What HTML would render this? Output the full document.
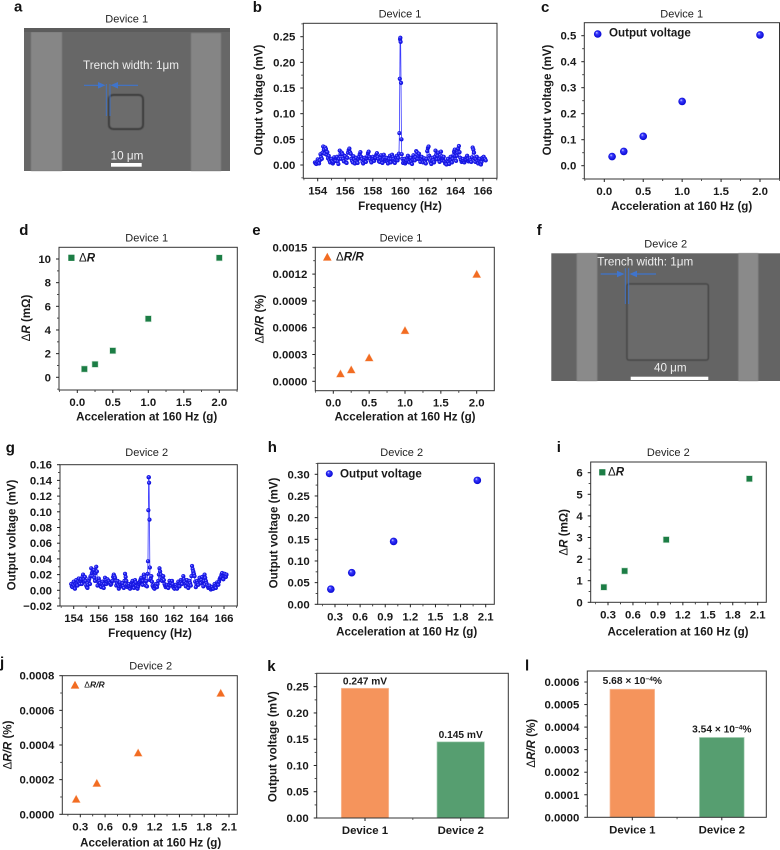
<!DOCTYPE html>
<html lang="en">
<head>
<meta charset="utf-8">
<title>Device 1 and Device 2 acceleration response</title>
<style>
html,body{margin:0;padding:0;background:#fff;width:780px;height:850px;overflow:hidden}
svg{display:block;filter:blur(.3px)}
text{font-family:"Liberation Sans",sans-serif;fill:#1a1a1a}
.title{font-size:11px;text-anchor:middle;fill:#222}
.letter{font-size:15px;font-weight:bold;fill:#111}
.axt{font-size:11.6px;font-weight:bold;text-anchor:middle;fill:#1a1a1a}
.axn{font-weight:normal}
.tick{font-size:11.4px;font-weight:bold;fill:#1a1a1a}
.leg{font-size:11.6px;font-weight:bold}
.img{font-size:11.7px;fill:#eee}
.val{font-size:10.2px;font-weight:bold;text-anchor:middle}
</style>
</head>
<body>
<svg id="fig" xmlns="http://www.w3.org/2000/svg" width="780" height="850" viewBox="0 0 780 850">
<defs>
<radialGradient id="bead" cx="50%" cy="50%" r="55%" fx="35%" fy="30%">
<stop offset="0" stop-color="#dfe4ff"/><stop offset=".3" stop-color="#3a3aff"/><stop offset="1" stop-color="#0000cc"/>
</radialGradient>
<filter id="soft"><feGaussianBlur stdDeviation="0.6"/></filter>
</defs>

<g>
<rect x="24" y="28" width="206" height="143" fill="#676767"/>
<rect x="31" y="32" width="31" height="139" fill="#868686" filter="url(#soft)"/>
<rect x="191" y="33" width="30" height="138" fill="#858585" filter="url(#soft)"/>
<rect x="24" y="28" width="206" height="4" fill="#5c5c5c"/>
<rect x="109" y="95" width="34" height="34" rx="4" fill="#6c6c6c" stroke="#3b3b3b" stroke-width="2" filter="url(#soft)"/>
<text class="img" x="83" y="69">Trench width: 1μm</text>
<path d="M84 85.3H100M138 85.3H116" stroke="#3f74cc" stroke-width="1.2"/>
<path d="M105.5 85.3L98 82V88.6ZM110.5 85.3L118 82V88.6Z" fill="#3f74cc"/>
<path d="M106.3 84V116M110 84V116" stroke="#3f74cc" stroke-width="0.9"/>
<text class="img" x="127" y="159.5" text-anchor="middle">10 μm</text>
<rect x="111" y="163" width="30.7" height="3.7" fill="#fff"/>
</g>

<g>
<rect x="551.3" y="253.3" width="228.7" height="127.7" fill="#646464"/>
<rect x="576.7" y="253.3" width="20.6" height="127.7" fill="#8a8a8a" filter="url(#soft)"/>
<rect x="738.3" y="253.3" width="20" height="127.7" fill="#8a8a8a" filter="url(#soft)"/>
<rect x="627" y="284" width="81.3" height="76" rx="2" fill="#6a6a6a" stroke="#3f3f3f" stroke-width="1.3" filter="url(#soft)"/>
<text class="img" x="597.3" y="265.3">Trench width: 1μm</text>
<path d="M600.7 274H618M656 274H636" stroke="#3f74cc" stroke-width="1.2"/>
<path d="M624.5 274L617 270.7V277.3ZM629.5 274L637 270.7V277.3Z" fill="#3f74cc"/>
<path d="M625.3 268.3V304M628.7 268.3V304" stroke="#3f74cc" stroke-width="0.9"/>
<text class="img" x="670.3" y="371.3" text-anchor="middle">40 μm</text>
<rect x="630.7" y="376.7" width="77.6" height="3.3" fill="#fff"/>
</g>

<g>
<text class="letter" x="14" y="11.7">a</text>
<text class="letter" x="252.7" y="12">b</text>
<text class="letter" x="541" y="12">c</text>
<text class="letter" x="19.3" y="235">d</text>
<text class="letter" x="252.3" y="235">e</text>
<text class="letter" x="536.7" y="235">f</text>
<text class="letter" x="5.7" y="452.7">g</text>
<text class="letter" x="267.7" y="452">h</text>
<text class="letter" x="556.7" y="452">i</text>
<text class="letter" x="0" y="667.7">j</text>
<text class="letter" x="267.3" y="671">k</text>
<text class="letter" x="525" y="670.3">l</text>
</g>

<g>
<text class="title" x="126.7" y="22.3">Device 1</text>
<text class="title" x="400" y="17.3">Device 1</text>
<text class="title" x="681.7" y="17.3">Device 1</text>
<text class="title" x="146.7" y="241.7">Device 1</text>
<text class="title" x="401" y="241.7">Device 1</text>
<text class="title" x="665.7" y="247.7">Device 2</text>
<text class="title" x="146.7" y="456">Device 2</text>
<text class="title" x="401.7" y="456">Device 2</text>
<text class="title" x="668.3" y="456">Device 2</text>
<text class="title" x="150.7" y="669.3">Device 2</text>
</g>

<g>
<text class="axt" x="400" y="210">Frequency (Hz)</text>
<text class="axt" transform="translate(262.7 100) rotate(-90)">Output voltage (mV)</text>
<text class="axt" x="681.7" y="210">Acceleration at 160 Hz (g)</text>
<text class="axt" transform="translate(551 100) rotate(-90)">Output voltage (mV)</text>
<text class="axt" x="146.7" y="420.5">Acceleration at 160 Hz (g)</text>
<text class="axt" transform="translate(30 318) rotate(-90)"><tspan class="axn">Δ</tspan><tspan font-style="italic">R</tspan> (mΩ)</text>
<text class="axt" x="405" y="420.5">Acceleration at 160 Hz (g)</text>
<text class="axt" transform="translate(263.3 319) rotate(-90)"><tspan class="axn">Δ</tspan><tspan font-style="italic">R/R</tspan> (%)</text>
<text class="axt" x="150" y="637">Frequency (Hz)</text>
<text class="axt" transform="translate(15.7 535) rotate(-90)">Output voltage (mV)</text>
<text class="axt" x="406.7" y="635.5">Acceleration at 160 Hz (g)</text>
<text class="axt" transform="translate(277.3 533) rotate(-90)">Output voltage (mV)</text>
<text class="axt" x="678" y="635.5">Acceleration at 160 Hz (g)</text>
<text class="axt" transform="translate(567.7 532.3) rotate(-90)"><tspan class="axn">Δ</tspan><tspan font-style="italic">R</tspan> (mΩ)</text>
<text class="axt" x="150.7" y="846.7">Acceleration at 160 Hz (g)</text>
<text class="axt" transform="translate(11.7 745) rotate(-90)"><tspan class="axn">Δ</tspan><tspan font-style="italic">R/R</tspan> (%)</text>
<text class="axt" transform="translate(276.7 746.7) rotate(-90)">Output voltage (mV)</text>
<text class="axt" transform="translate(535 743.3) rotate(-90)"><tspan class="axn">Δ</tspan><tspan font-style="italic">R/R</tspan> (%)</text>
</g>

<g>
<circle cx="597.7" cy="34" r="3.8" fill="url(#bead)"/>
<text class="leg" x="609" y="36.7">Output voltage</text>
<rect x="68.3" y="254.7" width="6.2" height="6.2" fill="#1c7d45"/>
<text class="leg" x="79" y="261.3"><tspan class="axn">Δ</tspan><tspan font-style="italic">R</tspan></text>
<path d="M323 260.6L327.3 252.8L331.6 260.6Z" fill="#f26c22"/>
<text class="leg" x="336" y="260.7"><tspan class="axn">Δ</tspan><tspan font-style="italic">R/R</tspan></text>
<circle cx="329.3" cy="473.7" r="3.5" fill="url(#bead)"/>
<text class="leg" x="340" y="477.3">Output voltage</text>
<rect x="599.2" y="469.2" width="6.2" height="6.2" fill="#1c7d45"/>
<text class="leg" x="608" y="475.7"><tspan class="axn">Δ</tspan><tspan font-style="italic">R</tspan></text>
<path d="M70.7 688.6L75 680.8L79.3 688.6Z" fill="#f26c22"/>
<text class="leg" x="84.3" y="687.7" style="font-size:8.5px"><tspan class="axn">Δ</tspan><tspan font-style="italic">R/R</tspan></text>
</g>

<g id="charts"></g>
</svg>

<script>
// ---- shared sweep frequency axis values (Hz)
const sweepFrequencies = [
153.80,153.85,153.90,153.95,154.00,154.05,154.10,154.15,154.20,154.25,
154.30,154.35,154.40,154.45,154.50,154.55,154.60,154.65,154.70,154.75,
154.80,154.85,154.90,154.95,155.00,155.05,155.10,155.15,155.20,155.25,
155.30,155.35,155.40,155.45,155.50,155.55,155.60,155.65,155.70,155.75,
155.80,155.85,155.90,155.95,156.00,156.05,156.10,156.15,156.20,156.25,
156.30,156.35,156.40,156.45,156.50,156.55,156.60,156.65,156.70,156.75,
156.80,156.85,156.90,156.95,157.00,157.05,157.10,157.15,157.20,157.25,
157.30,157.35,157.40,157.45,157.50,157.55,157.60,157.65,157.70,157.75,
157.80,157.85,157.90,157.95,158.00,158.05,158.10,158.15,158.20,158.25,
158.30,158.35,158.40,158.45,158.50,158.55,158.60,158.65,158.70,158.75,
158.80,158.85,158.90,158.95,159.00,159.05,159.10,159.15,159.20,159.25,
159.30,159.35,159.40,159.45,159.50,159.55,159.60,159.65,159.70,159.75,
159.80,159.85,
159.90,159.93,159.96,159.98,160.00,160.02,160.05,160.08,160.10,
160.15,160.20,160.25,160.30,160.35,160.40,160.45,160.50,160.55,160.60,
160.65,160.70,160.75,160.80,160.85,160.90,160.95,161.00,161.05,161.10,
161.15,161.20,161.25,161.30,161.35,161.40,161.45,161.50,161.55,161.60,
161.65,161.70,161.75,161.80,161.85,161.90,161.95,162.00,162.05,162.10,
162.15,162.20,162.25,162.30,162.35,162.40,162.45,162.50,162.55,162.60,
162.65,162.70,162.75,162.80,162.85,162.90,162.95,163.00,163.05,163.10,
163.15,163.20,163.25,163.30,163.35,163.40,163.45,163.50,163.55,163.60,
163.65,163.70,163.75,163.80,163.85,163.90,163.95,164.00,164.05,164.10,
164.15,164.20,164.25,164.30,164.35,164.40,164.45,164.50,164.55,164.60,
164.65,164.70,164.75,164.80,164.85,164.90,164.95,165.00,165.05,165.10,
165.15,165.20,165.25,165.30,165.35,165.40,165.45,165.50,165.55,165.60,
165.65,165.70,165.75,165.80,165.85,165.90,165.95,166.00,166.05,166.10,
166.15,166.20];

// ---- panel b
const device1SweepVoltage = [
.005,.003,.002,.006,.011,.007,.003,.009,.021,.015,
.012,.024,.036,.030,.022,.034,.031,.020,.025,.013,
.018,.009,.005,.012,.012,.007,.003,.006,.015,.009,
.008,.014,.016,.007,.002,.012,.028,.021,.012,.024,
.021,.012,.007,.018,.017,.005,.004,.014,.024,.029,
.032,.025,.022,.012,.008,.005,.017,.011,.003,.008,
.014,.006,.004,.012,.016,.021,.025,.016,.012,.006,
.003,.009,.014,.007,.006,.013,.017,.023,.026,.016,
.012,.008,.005,.011,.016,.012,.008,.013,.014,.020,
.023,.016,.012,.007,.006,.014,.019,.009,.004,.011,
.020,.014,.008,.011,.014,.007,.003,.009,.012,.018,
.005,.012,.020,.016,.012,.006,.004,.010,.014,.018,
.009,.014,
.022,.062,.168,.245,.248,.240,.160,.050,.021,
.012,.004,.008,.012,.003,.006,.009,.014,.018,.009,
.005,.011,.014,.007,.002,.010,.019,.013,.009,.015,
.027,.025,.012,.018,.022,.011,.006,.012,.016,.009,
.005,.010,.013,.006,.003,.012,.027,.033,.036,.018,
.009,.005,.002,.008,.014,.009,.005,.016,.028,.020,
.011,.018,.024,.012,.006,.015,.026,.017,.009,.013,
.016,.007,.003,.006,.001,.008,.012,.006,.002,.009,
.016,.010,.005,.012,.019,.026,.030,.017,.008,.018,
.024,.032,.037,.025,.014,.010,.006,.009,.012,.008,
.005,.009,.011,.015,.018,.012,.007,.010,.013,.009,
.006,.015,.034,.030,.024,.012,.006,.011,.016,.008,
.003,.008,.012,.005,.001,.006,.014,.011,.016,.012,
.012,.009];
const panelBYTicks = ['0.00','0.05','0.10','0.15','0.20','0.25'];
const panelBXTicks = ['154','156','158','160','162','164','166'];

// ---- panel c
const device1Acceleration = [0.1,0.25,0.5,1,2];
const device1OutputVoltage = [0.035,0.055,0.113,0.247,0.503];
const panelCYTicks = ['0.0','0.1','0.2','0.3','0.4','0.5'];
const device1AccelTicks = ['0.0','0.5','1.0','1.5','2.0'];

// ---- panel d
const device1DeltaR = [0.7,1.1,2.25,4.95,10.1];
const panelDYTicks = ['0','2','4','6','8','10'];

// ---- panel e
const device1DeltaRatio = [0.000085,0.00013,0.000265,0.00057,0.0012];
const panelEYTicks = ['0.0000','0.0003','0.0006','0.0009','0.0012','0.0015'];

// ---- panel g
const device2SweepVoltage = [
.008,.005,.004,.007,.011,.006,.002,.008,.013,.009,
.006,.011,.015,.010,.008,.012,.014,.008,.017,.020,
.014,.011,.017,.012,.006,.004,.003,.007,.012,.015,
.008,.018,.028,.022,.018,.024,.026,.016,.012,.022,
.030,.024,.006,.011,.015,.012,.009,.005,.004,.008,
.011,.006,.003,.008,.016,.013,.008,.011,.014,.010,
.012,.010,.009,.007,.008,.011,.012,.017,.020,.018,
.016,.012,.006,.009,.012,.006,.002,.005,.010,.007,
.005,.007,.009,.005,.003,.012,.021,.017,.012,.007,
.004,.006,.008,.005,.002,.005,.007,.010,.012,.007,
.003,.008,.013,.010,.005,.003,.002,.005,.008,.010,
.012,.014,.016,.012,.007,.012,.020,.017,.012,.006,
.012,.005,
.021,.037,.102,.144,.144,.137,.090,.029,.013,
.015,.018,.011,.006,.004,.003,.002,.005,.008,.006,
.004,.008,.012,.020,.028,.024,.020,.016,.012,.015,
.018,.013,.008,.006,.004,.006,.007,.005,.003,.007,
.012,.009,.006,.009,.012,.008,.004,.003,.002,.005,
.007,.004,.002,.006,.011,.008,.005,.009,.013,.011,
.008,.013,.018,.014,.011,.008,.005,.009,.013,.008,
.003,.007,.012,.009,.006,.018,.031,.027,.024,.021,
.018,.011,.004,.008,.012,.009,.007,.012,.016,.012,
.009,.013,.017,.011,.005,.012,.020,.016,.012,.009,
.007,.005,.003,.004,.006,.003,.001,.003,.004,.002,
.002,.005,.008,.005,.003,.007,.010,.008,.007,.011,
.014,.016,.017,.020,.022,.018,.014,.018,.021,.019,
.017,.020];
const panelGYTicks = ['−0.02','0.00','0.02','0.04','0.06','0.08','0.10','0.12','0.14','0.16'];

// ---- panel h, i, j
const device2Acceleration = [0.25,0.5,1,2];
const device2AccelTicks = ['0.3','0.6','0.9','1.2','1.5','1.8','2.1'];
const device2OutputVoltage = [0.035,0.073,0.145,0.286];
const panelHYTicks = ['0.00','0.05','0.10','0.15','0.20','0.25','0.30'];
const device2DeltaR = [0.7,1.45,2.9,5.72];
const panelIYTicks = ['0','1','2','3','4','5','6'];
const device2DeltaRatio = [0.000088,0.00018,0.000355,0.0007];
const panelJYTicks = ['0.0000','0.0002','0.0004','0.0006','0.0008'];

// ---- panel k, l
const deviceNames = ['Device 1','Device 2'];
const comparedVoltage = [0.247,0.145];
const comparedVoltageLabels = ['0.247 mV','0.145 mV'];
const panelKYTicks = ['0.00','0.05','0.10','0.15','0.20','0.25'];
const comparedRatio = [0.000568,0.000354];
const comparedRatioLabels = ['5.68 × 10','3.54 × 10'];
const panelLYTicks = ['0.0000','0.0001','0.0002','0.0003','0.0004','0.0005','0.0006'];

const NS = 'http://www.w3.org/2000/svg';
const root = document.getElementById('charts');

function make(tag, attrs, parent, text) {
  const node = document.createElementNS(NS, tag);
  for (const k in attrs) node.setAttribute(k, attrs[k]);
  if (text !== undefined) node.textContent = text;
  parent.appendChild(node);
  return node;
}
function num(label) { return parseFloat(String(label).replace('−', '-')); }
function scale(d, r) { return v => r[0] + (v - d[0]) / (d[1] - d[0]) * (r[1] - r[0]); }

function frameAndYAxis(id, g, box, y, yTicks) {
  const frame = make('rect', {x: box[0], y: box[1], width: box[2] - box[0], height: box[3] - box[1], fill: 'none', stroke: '#333', 'stroke-width': 1}, g);
  
  
  const values = yTicks.map(num);
  const half = (values[1] - values[0]) / 2;
  values.forEach((v, i) => {
    const tick = make('line', {x1: box[0] - 3, x2: box[0], y1: y(v), y2: y(v), stroke: '#222', 'stroke-width': 1}, g);
    
    
    const label = make('text', {class: 'tick', x: box[0] - 8, y: y(v) + 4, 'text-anchor': 'end'}, g, yTicks[i]);
    
    
    [v - half, v + half].forEach(m => {
      if (y(m) >= box[1] && y(m) <= box[3] && (m > values[0] || i === 0)) {
        const minor = make('line', {x1: box[0] - 2, x2: box[0], y1: y(m), y2: y(m), stroke: '#444', 'stroke-width': 0.8}, g);
        
        
      }
    });
  });
}

function xAxis(id, g, box, x, xTicks) {
  const values = xTicks.map(num);
  const half = (values[1] - values[0]) / 2;
  values.forEach((v, i) => {
    const tick = make('line', {x1: x(v), x2: x(v), y1: box[3], y2: box[3] + 3, stroke: '#222', 'stroke-width': 1}, g);
    
    
    const label = make('text', {class: 'tick', x: x(v), y: box[3] + 16, 'text-anchor': 'middle'}, g, xTicks[i]);
    
    
    [v - half, v + half].forEach(m => {
      if (x(m) >= box[0] && x(m) <= box[2] && (m > values[0] || i === 0)) {
        const minor = make('line', {x1: x(m), x2: x(m), y1: box[3], y2: box[3] + 2, stroke: '#444', 'stroke-width': 0.8}, g);
        
        
      }
    });
  });
}

function drawMarker(id, g, shape, px, py) {
  let mark;
  if (shape === 'bead') {
    mark = make('circle', {cx: px, cy: py, r: 3.8, fill: 'url(#bead)'}, g);
  } else if (shape === 'square') {
    mark = make('rect', {x: px - 3.1, y: py - 3.1, width: 6.2, height: 6.2, fill: '#1c7d45', stroke: '#cfe5d6', 'stroke-width': 0.6}, g);
  } else {
    mark = make('polygon', {points: (px - 4.3) + ',' + (py + 3.6) + ' ' + px + ',' + (py - 4.2) + ' ' + (px + 4.3) + ',' + (py + 3.6), fill: '#f26c22', stroke: '#fbd0b6', 'stroke-width': 0.4}, g);
  }
  
  
}

function scatterChart(id, box, xd, xr, yd, yr, xTicks, yTicks, xs, ys, shape) {
  const g = make('g', {}, root);
  
  
  const x = scale(xd, xr), y = scale(yd, yr);
  frameAndYAxis(id, g, box, y, yTicks);
  xAxis(id, g, box, x, xTicks);
  xs.forEach((v, i) => drawMarker(id, g, shape, x(v), y(ys[i])));
}

function sweepChart(id, box, xd, xr, yd, yr, xTicks, yTicks, xs, ys) {
  const g = make('g', {}, root);
  
  
  const x = scale(xd, xr), y = scale(yd, yr);
  frameAndYAxis(id, g, box, y, yTicks);
  xAxis(id, g, box, x, xTicks);
  const pts = xs.map((v, i) => x(v).toFixed(2) + ',' + y(ys[i]).toFixed(2)).join(' ');
  const line = make('polyline', {points: pts, fill: 'none', stroke: '#3a3aff', 'stroke-width': 0.8}, g);
  
  
  xs.forEach((v, i) => {
    const bead = make('circle', {cx: x(v), cy: y(ys[i]), r: 1.9, fill: 'url(#bead)', stroke: '#1414e0', 'stroke-width': 0.5}, g);
    
    
  });
}

function barChart(id, box, yd, yr, c0, step, bw, yTicks, names, values, labels, sup, lift) {
  const g = make('g', {}, root);
  
  
  const y = scale(yd, yr);
  const colors = ['#f5945c', '#569e70'];
  const edges = ['#fac2a2', '#a9cfb6'];
  names.forEach((n, i) => {
    const cx = c0 + i * step;
    const bar = make('rect', {x: cx - bw / 2, y: y(values[i]), width: bw, height: y(0) - y(values[i]), fill: colors[i], stroke: edges[i], 'stroke-width': 0.7}, g);
    
    
    const value = make('text', {class: 'val', x: cx, y: y(values[i]) - lift}, g, labels[i]);
    
    
    if (sup) {
      make('tspan', {dy: -3, 'font-size': 6.5}, value, '−4');
      make('tspan', {dy: 3}, value, '%');
    }
    const tick = make('line', {x1: cx, x2: cx, y1: box[3], y2: box[3] + 3, stroke: '#222', 'stroke-width': 1}, g);
    
    
    const label = make('text', {class: 'tick', x: cx, y: box[3] + 16, 'text-anchor': 'middle'}, g, n);
    
    
  });
  const mid = make('line', {x1: c0 + step / 2, x2: c0 + step / 2, y1: box[3], y2: box[3] + 2, stroke: '#444', 'stroke-width': 0.8}, g);
  
  
  frameAndYAxis(id, g, box, y, yTicks);
}

sweepChart('panel-b', [303.3,23.3,497,178.3], [154,166], [317.7,483], [0,0.25], [165,36.7], panelBXTicks, panelBYTicks, sweepFrequencies, device1SweepVoltage);
scatterChart('panel-c', [584.3,22.7,779.5,179], [0,2], [604.3,760], [0,0.5], [165.7,35.7], device1AccelTicks, panelCYTicks, device1Acceleration, device1OutputVoltage, 'bead');
scatterChart('panel-d', [59,247.3,237.3,390], [0,2], [77.3,219.3], [0,10], [377.3,259], device1AccelTicks, panelDYTicks, device1Acceleration, device1DeltaR, 'square');
scatterChart('panel-e', [315.3,247.3,494.3,390.7], [0,2], [333.3,476.7], [0,0.0015], [381.3,247.3], device1AccelTicks, panelEYTicks, device1Acceleration, device1DeltaRatio, 'triangle');
sweepChart('panel-g', [60,464.7,237.3,606], [154,166], [73.7,224], [-0.02,0.16], [606,464.7], panelBXTicks, panelGYTicks, sweepFrequencies, device2SweepVoltage);
scatterChart('panel-h', [317.7,463.3,494.3,604.3], [0.3,2.1], [335,485.7], [0,0.3], [604.3,474.3], device2AccelTicks, panelHYTicks, device2Acceleration, device2OutputVoltage, 'bead');
scatterChart('panel-i', [590.7,462,766.3,602.3], [0.3,2.1], [608,757.7], [0,6], [602.3,472.7], device2AccelTicks, panelIYTicks, device2Acceleration, device2DeltaR, 'square');
scatterChart('panel-j', [62.3,675.7,237.3,814.3], [0.3,2.1], [80.3,229], [0,0.0008], [814.3,675.7], device2AccelTicks, panelJYTicks, device2Acceleration, device2DeltaRatio, 'triangle');
barChart('panel-k', [316.7,673.3,508.3,818], [0,0.25], [818,686.7], 365, 95.7, 47.4, panelKYTicks, deviceNames, comparedVoltage, comparedVoltageLabels, false, 3.6);
barChart('panel-l', [587.3,671,766.3,817.3], [0,0.0006], [817.3,682], 632.3, 89.5, 44.7, panelLYTicks, deviceNames, comparedRatio, comparedRatioLabels, true, 5);
</script>
</body>
</html>
